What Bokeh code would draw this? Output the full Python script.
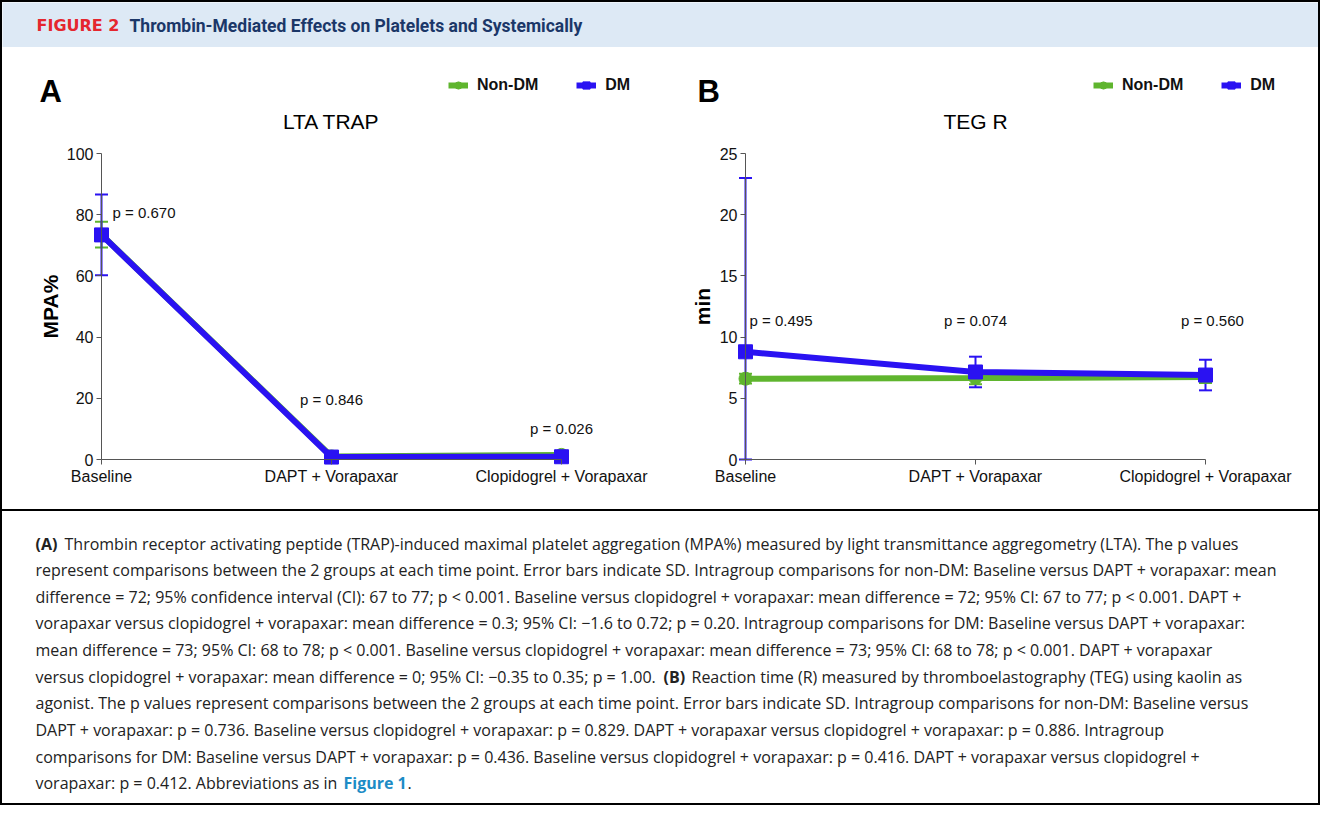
import numpy as np
from bokeh.plotting import figure
from bokeh.models import (ColumnDataSource, Range1d, LinearAxis, FixedTicker,
                          Whisker, TeeHead, Legend, LegendItem, Spacer)
from bokeh.layouts import column, row
from bokeh.embed import file_html
from bokeh.resources import INLINE
from bokeh.core.properties import value

# ---------------- data ----------------
timepoints = ["Baseline", "DAPT + Vorapaxar", "Clopidogrel + Vorapaxar"]
group_names = ["Non-DM", "DM"]

lta_nondm_mean = [73.5, 1.0, 1.5]
lta_nondm_sd = [4.2, 0.8, 1.0]
lta_dm_mean = [73.4, 0.8, 0.9]
lta_dm_sd = [13.2, 0.6, 0.6]
lta_pvalues = ["p = 0.670", "p = 0.846", "p = 0.026"]
lta_yticks = [0, 20, 40, 60, 80, 100]

teg_nondm_mean = [6.6, 6.65, 6.75]
teg_nondm_sd = [0.4, 0.5, 0.5]
teg_dm_mean = [8.8, 7.15, 6.9]
teg_dm_sd = [14.2, 1.25, 1.25]
teg_pvalues = ["p = 0.495", "p = 0.074", "p = 0.560"]
teg_yticks = [0, 5, 10, 15, 20, 25]

header_label = "FIGURE 2"
header_title = "Thrombin-Mediated Effects on Platelets and Systemically"

caption_lines = [
    "Thrombin receptor activating peptide (TRAP)-induced maximal platelet aggregation (MPA%) measured by light transmittance aggregometry (LTA). The p values",
    "represent comparisons between the 2 groups at each time point. Error bars indicate SD. Intragroup comparisons for non-DM: Baseline versus DAPT + vorapaxar: mean",
    "difference = 72; 95% confidence interval (CI): 67 to 77; p < 0.001. Baseline versus clopidogrel + vorapaxar: mean difference = 72; 95% CI: 67 to 77; p < 0.001. DAPT +",
    "vorapaxar versus clopidogrel + vorapaxar: mean difference = 0.3; 95% CI: \u22121.6 to 0.72; p = 0.20. Intragroup comparisons for DM: Baseline versus DAPT + vorapaxar:",
    "mean difference = 73; 95% CI: 68 to 78; p < 0.001. Baseline versus clopidogrel + vorapaxar: mean difference = 73; 95% CI: 68 to 78; p < 0.001. DAPT + vorapaxar",
    "versus clopidogrel + vorapaxar: mean difference = 0; 95% CI: \u22120.35 to 0.35; p = 1.00.",
    "agonist. The p values represent comparisons between the 2 groups at each time point. Error bars indicate SD. Intragroup comparisons for non-DM: Baseline versus",
    "DAPT + vorapaxar: p = 0.736. Baseline versus clopidogrel + vorapaxar: p = 0.829. DAPT + vorapaxar versus clopidogrel + vorapaxar: p = 0.886. Intragroup",
    "comparisons for DM: Baseline versus DAPT + vorapaxar: p = 0.436. Baseline versus clopidogrel + vorapaxar: p = 0.416. DAPT + vorapaxar versus clopidogrel +",
    "vorapaxar: p = 0.412. Abbreviations as in",
]
caption_bold = ["(A)", "(B)"]
caption_line6_tail = "Reaction time (R) measured by thromboelastography (TEG) using kaolin as"
caption_link = "Figure 1"

# ---------------- style ----------------
GREEN = "#5fb52e"
BLUE = "#2a12f2"
CHART_FONT = "Liberation Sans"
CAP_FONT = "Open Sans"
TOTAL_W = 1316
PANEL_W = 658
PANEL_H = 462
HEADER_H = 45
CAPTION_H = 292
PX_PER_CAT = 230.0


def build_panel(letter, title, ylabel, nd_mean, nd_sd, dm_mean, dm_sd, pvals,
                yticks, axis_px, ppu_y, legend_left, first_p_dx, label_standoff):
    ymax = yticks[-1]
    # pixel geometry -> ranges (value 0 sits at axis_px from left, 50 px above bottom)
    xs = -axis_px / PX_PER_CAT
    xe = xs + PANEL_W / PX_PER_CAT
    ys = -50.0 / ppu_y
    ye = ys + PANEL_H / ppu_y

    p = figure(width=PANEL_W, height=PANEL_H, x_range=Range1d(xs, xe),
               y_range=Range1d(ys, ye), output_backend="svg",
               toolbar_location=None, x_axis_location=None,
               y_axis_location=None, min_border=0, outline_line_color=None)
    p.grid.visible = False

    xvals = list(range(len(timepoints)))
    xax = LinearAxis(fixed_location=0, bounds=(0, len(timepoints) - 1),
                     ticker=FixedTicker(ticks=xvals),
                     major_label_overrides={i: t for i, t in enumerate(timepoints)})
    yax = LinearAxis(fixed_location=0, bounds=(0, ymax),
                     ticker=FixedTicker(ticks=yticks), axis_label=ylabel)
    for ax in (xax, yax):
        ax.axis_line_color = "#555555"
        ax.axis_line_width = 1
        ax.major_tick_line_color = "#555555"
        ax.major_tick_out = 5
        ax.major_tick_in = 0
        ax.minor_tick_line_color = None
        ax.major_label_text_font = CHART_FONT
        ax.major_label_text_font_size = "16px"
        ax.major_label_text_color = "#111111"
        ax.major_label_standoff = 3
    yax.axis_label_text_font = CHART_FONT
    yax.axis_label_text_font_size = "21px"
    yax.axis_label_text_font_style = "bold"
    yax.axis_label_text_color = "#000000"
    yax.axis_label_standoff = label_standoff
    p.add_layout(xax, "below")
    p.add_layout(yax, "left")

    renderers = {}
    for name, mean, sd, color, marker, size in (
            ("Non-DM", nd_mean, nd_sd, GREEN, "circle", 13),
            ("DM", dm_mean, dm_sd, BLUE, "square", 14)):
        mean = np.asarray(mean, dtype=float)
        sd = np.asarray(sd, dtype=float)
        src = ColumnDataSource(dict(x=xvals, y=mean,
                                    upper=mean + sd,
                                    lower=np.maximum(mean - sd, 0.0)))
        ln = p.line("x", "y", source=src, line_color=color, line_width=6)
        wh = Whisker(source=src, base="x", upper="upper", lower="lower",
                     line_color=color, line_width=2,
                     upper_head=TeeHead(size=13, line_color=color, line_width=2),
                     lower_head=TeeHead(size=13, line_color=color, line_width=2))
        p.add_layout(wh)
        sc = p.scatter("x", "y", source=src, marker=marker, size=size,
                       fill_color=color, line_color=color)
        renderers[name] = [ln, sc]

    legend = Legend(items=[LegendItem(label=n, renderers=renderers[n]) for n in group_names],
                    orientation="horizontal", location=(legend_left, PANEL_H - 47),
                    border_line_color=None, background_fill_alpha=0,
                    padding=0, margin=0, spacing=38, label_standoff=9,
                    glyph_width=20, glyph_height=18,
                    label_text_font=CHART_FONT, label_text_font_style="bold",
                    label_text_font_size="16px", label_text_color="#111111")
    p.add_layout(legend)

    def dx(px):
        return px / PX_PER_CAT

    def dy_top(px_from_top):
        return ye - px_from_top / ppu_y

    p.text(x=[dx(first_p_dx)], y=[dy_top(165 if ymax == 100 else 273)], text=[pvals[0]],
           text_font=value(CHART_FONT), text_font_size="15px", text_align="left",
           text_baseline="middle", text_color="#111111")
    if ymax == 100:
        p_y = [19.7, 10.2]
    else:
        p_y = [dy_top(273), dy_top(273)]
    p.text(x=[1.0, 2.0 + (0.03 if ymax != 100 else 0.0)], y=p_y, text=pvals[1:],
           text_font=value(CHART_FONT), text_font_size="15px", text_align="center",
           text_baseline="middle", text_color="#111111")
    p.text(x=[xs + 37 / PX_PER_CAT], y=[dy_top(44)], text=[letter],
           text_font=value(CHART_FONT), text_font_size="31px", text_font_style="bold",
           text_align="left", text_baseline="middle", text_color="#000000")
    p.text(x=[1.0], y=[dy_top(74)], text=[title],
           text_font=value(CHART_FONT), text_font_size="21px", text_align="center",
           text_baseline="middle", text_color="#000000")
    return p


figA = build_panel("A", "LTA TRAP", "MPA%", lta_nondm_mean, lta_nondm_sd,
                   lta_dm_mean, lta_dm_sd, lta_pvalues, lta_yticks,
                   axis_px=99, ppu_y=3.06, legend_left=446, first_p_dx=11,
                   label_standoff=2)
figB = build_panel("B", "TEG R", "min", teg_nondm_mean, teg_nondm_sd,
                   teg_dm_mean, teg_dm_sd, teg_pvalues, teg_yticks,
                   axis_px=85, ppu_y=12.24, legend_left=433, first_p_dx=4,
                   label_standoff=3)

# ---------------- header ----------------
hdr = figure(width=TOTAL_W, height=HEADER_H, x_range=Range1d(0, TOTAL_W),
             y_range=Range1d(0, HEADER_H), output_backend="svg",
             toolbar_location=None, x_axis_location=None, y_axis_location=None,
             min_border=0, outline_line_color=None,
             background_fill_color="#dde9f5", border_fill_color="#dde9f5")
hdr.grid.visible = False
hdr.text(x=[34], y=[HEADER_H - 23], text=[header_label], text_font=value("DejaVu Sans"),
         text_font_size="16px", text_font_style="bold", text_color="#e5262e",
         text_baseline="middle")
hdr.text(x=[127], y=[HEADER_H - 23], text=[header_title], text_font=value("Roboto"),
         text_font_size="17.5px", text_font_style="bold", text_color="#1b3768",
         text_baseline="middle")

# ---------------- caption ----------------
cap = figure(width=TOTAL_W, height=CAPTION_H, x_range=Range1d(0, TOTAL_W),
             y_range=Range1d(0, CAPTION_H), output_backend="svg",
             toolbar_location=None, x_axis_location=None, y_axis_location=None,
             min_border=0, outline_line_color=None)
cap.grid.visible = False
LINE_H = 26.65
ys_lines = [CAPTION_H - 32 - LINE_H * i for i in range(len(caption_lines))]
xs_lines = [62] + [33] * (len(caption_lines) - 1)
cap.text(x=xs_lines, y=ys_lines, text=caption_lines, text_font=value(CAP_FONT),
         text_font_size="16px", text_color="#222222", text_baseline="middle")
cap.text(x=[33, 661], y=[ys_lines[0], ys_lines[5]], text=caption_bold,
         text_font=value(CAP_FONT), text_font_size="16px", text_font_style="bold",
         text_color="#222222", text_baseline="middle")
cap.text(x=[689], y=[ys_lines[5]], text=[caption_line6_tail], text_font=value(CAP_FONT),
         text_font_size="16px", text_color="#222222", text_baseline="middle")
cap.text(x=[341], y=[ys_lines[9]], text=[caption_link], text_font=value(CAP_FONT),
         text_font_size="16px", text_font_style="bold", text_color="#1d8cc6",
         text_baseline="middle")
cap.text(x=[405], y=[ys_lines[9]], text=["."], text_font=value(CAP_FONT),
         text_font_size="16px", text_color="#222222", text_baseline="middle")

sep = Spacer(width=TOTAL_W, height=2, styles={"background-color": "#000000"})

layout = column(hdr, row(figA, figB), sep, cap,
                styles={"border": "2px solid #000000"})

open("out.html", "w").write(file_html(layout, INLINE))
